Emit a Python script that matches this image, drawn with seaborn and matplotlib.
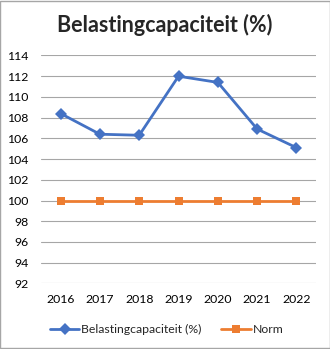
import matplotlib
matplotlib.use("Agg")
import matplotlib.pyplot as plt
import seaborn as sns
import pandas as pd
from matplotlib.patches import Rectangle

years = ["2016", "2017", "2018", "2019", "2020", "2021", "2022"]
belasting = [108.4, 106.4, 106.3, 112.0, 111.4, 106.9, 105.1]
norm = [100, 100, 100, 100, 100, 100, 100]
series_names = ["Belastingcapaciteit (%)", "Norm"]
y_ticks = [92, 94, 96, 98, 100, 102, 104, 106, 108, 110, 112, 114]

sns.set_style("white")
plt.rcParams['font.family'] = ['Lato', 'DejaVu Sans']

df = pd.DataFrame({
    "year": years * 2,
    "value": belasting + norm,
    "series": [series_names[0]] * len(years) + [series_names[1]] * len(years),
})

fig = plt.figure(figsize=(3.30, 3.49), dpi=100)
ax = fig.add_axes([0.124, 0.188, 0.834, 0.653])

sns.lineplot(data=df, x="year", y="value", hue="series", style="series",
             palette=["#4472C4", "#ED7D31"], markers=["D", "s"], dashes=False,
             linewidth=2, markersize=6, markeredgewidth=0, ax=ax, sort=False)

ax.set_xlim(-0.5, len(years) - 0.5)
ax.set_ylim(92, 114)
ax.set_yticks(y_ticks)
ax.set_yticklabels([str(t) for t in y_ticks])
ax.grid(axis="y", color="#A6A6A6", linewidth=0.8)
ax.set_axisbelow(True)
for s in ax.spines.values():
    s.set_visible(False)
ax.tick_params(axis="both", length=0, labelsize=8.8, colors="#000000")
ax.tick_params(axis="y", pad=9)
ax.tick_params(axis="x", pad=8)
ax.set_xlabel("")
ax.set_ylabel("")

handles, labels = ax.get_legend_handles_labels()
ax.legend_.remove()
fig.legend(handles, labels, loc="center", bbox_to_anchor=(0.505, 0.056), ncol=2,
           frameon=False, fontsize=8.8, handlelength=2.4, columnspacing=1.6, handletextpad=0.15)

fig.text(0.5, 0.928, "Belastingcapaciteit (%)", ha="center", va="center",
         fontsize=15.5, fontweight="bold")

fig.patches.append(Rectangle((0.0015, 0.0015), 0.997, 0.997, transform=fig.transFigure,
                             fill=False, edgecolor="#A6A6A6", linewidth=1))

fig.savefig("out.png", dpi=100)
